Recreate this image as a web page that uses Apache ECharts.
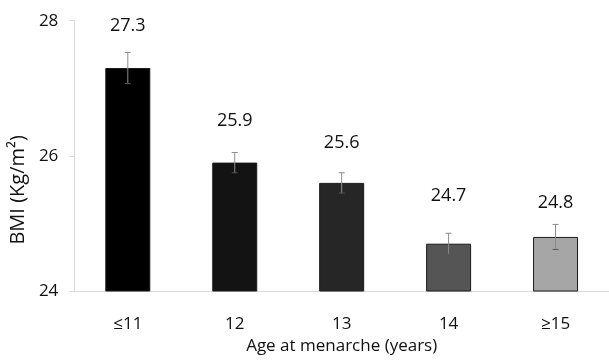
<!DOCTYPE html>
<html>
<head>
<meta charset="utf-8">
<script src="https://cdn.jsdelivr.net/npm/echarts@6/dist/echarts.min.js"></script>
<style>
html,body{margin:0;padding:0;background:#fff;}
#chart{width:609px;height:360px;}
</style>
</head>
<body>
<div id="chart"></div>
<script>
var categories = ['≤11', '12', '13', '14', '≥15'];
var bmiValues = [27.3, 25.9, 25.6, 24.7, 24.8];
var bmiError = [0.23, 0.15, 0.15, 0.155, 0.185];
var yTicks = [24, 26, 28];

var barColors = ['#000000', '#131313', '#262626', '#555555', '#a6a6a6'];
var labelGap = [33, 33, 31, 39, 25];

var chart = echarts.init(document.getElementById('chart'));
var FONT = 'Open Sans';

var barData = bmiValues.map(function (v, i) {
  return {
    value: v,
    itemStyle: { color: barColors[i] },
    label: { distance: labelGap[i] }
  };
});

var errData = bmiValues.map(function (v, i) {
  return [i, v - bmiError[i], v + bmiError[i]];
});

chart.setOption({
  animation: false,
  backgroundColor: '#ffffff',
  grid: { left: 71, right: 0, top: 20.7, bottom: 69 },
  xAxis: {
    type: 'category',
    data: categories,
    name: 'Age at menarche (years)',
    nameLocation: 'middle',
    nameGap: 42,
    nameTextStyle: { fontFamily: FONT, fontSize: 17, color: '#111' },
    axisLine: { lineStyle: { color: '#d9d9d9', width: 1 } },
    axisTick: { show: false },
    axisLabel: { margin: 25, fontFamily: FONT, fontSize: 17, color: '#111' }
  },
  yAxis: {
    type: 'value',
    min: yTicks[0],
    max: yTicks[yTicks.length - 1],
    interval: 2,
    name: 'BMI (Kg/m²)',
    nameLocation: 'middle',
    nameGap: 38,
    nameRotate: 90,
    nameTextStyle: { fontFamily: FONT, fontSize: 20, color: '#111', padding: [0, 68, 0, 0] },
    axisLine: { show: true, lineStyle: { color: '#d9d9d9', width: 1 } },
    axisTick: { show: true, length: 5, lineStyle: { color: '#d9d9d9' } },
    splitLine: { show: false },
    axisLabel: { margin: 16, fontFamily: FONT, fontSize: 17, color: '#111' }
  },
  series: [
    {
      type: 'bar',
      data: barData,
      barWidth: 45,
      itemStyle: { borderColor: '#1a1a1a', borderWidth: 1 },
      label: {
        show: true,
        position: 'top',
        fontFamily: FONT,
        fontSize: 18,
        color: '#111',
        formatter: function (p) { return p.value.toFixed(1); }
      },
      z: 2
    },
    {
      type: 'custom',
      data: errData,
      z: 3,
      renderItem: function (params, api) {
        var x = api.value(0);
        var lo = api.coord([x, api.value(1)]);
        var hi = api.coord([x, api.value(2)]);
        var cap = 3;
        var st = { stroke: '#8c8c8c', lineWidth: 1 };
        return {
          type: 'group',
          children: [
            { type: 'line', shape: { x1: hi[0], y1: hi[1], x2: lo[0], y2: lo[1] }, style: st },
            { type: 'line', shape: { x1: hi[0] - cap, y1: hi[1], x2: hi[0] + cap, y2: hi[1] }, style: st },
            { type: 'line', shape: { x1: lo[0] - cap, y1: lo[1], x2: lo[0] + cap, y2: lo[1] }, style: { stroke: '#555', lineWidth: 1 } }
          ]
        };
      }
    }
  ]
});
</script>
</body>
</html>
